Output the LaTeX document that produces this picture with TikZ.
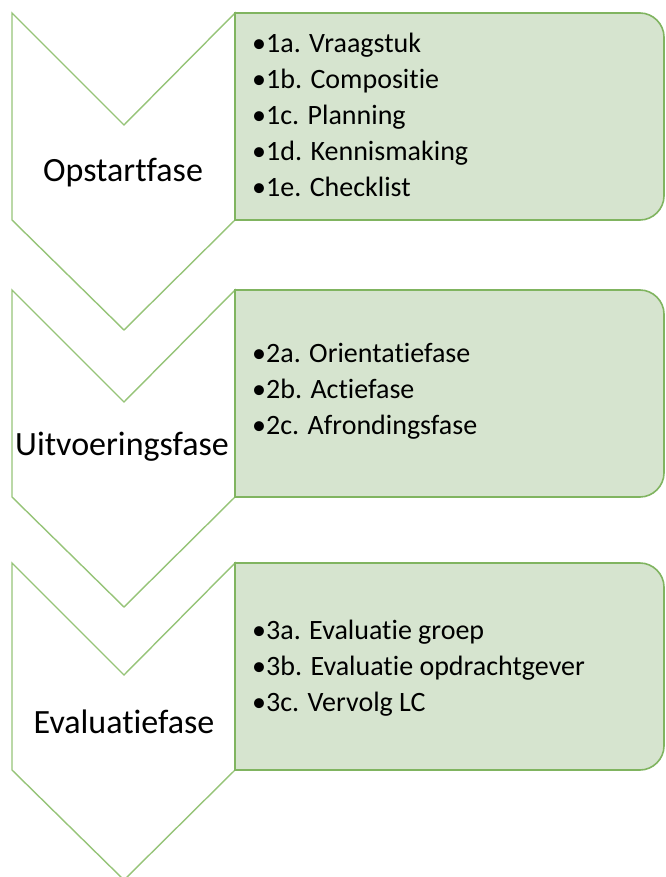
\documentclass[tikz,border=0pt]{standalone}
\usepackage{fontspec}
\setmainfont{Carlito}[Ligatures=NoCommon]
\usetikzlibrary{positioning}
\definecolor{chevline}{RGB}{150,196,120}
\definecolor{boxline}{RGB}{128,180,96}
\definecolor{boxfill}{RGB}{214,228,207}

\begin{document}
\begin{tikzpicture}[x=1pt, y=-1pt,
      chevron/.style  = {draw=chevline, line width=1.4pt, fill=white, line join=miter},
      phasebox/.style = {draw=boxline, line width=1.6pt, fill=boxfill},
      phase/.style    = {font=\fontsize{34}{40}\selectfont, inner sep=0pt},
      items/.style    = {font=\fontsize{28}{36}\selectfont, align=left,
                         anchor=west, inner sep=0pt}
    ]
    \useasboundingbox (0,0) rectangle (665,877);

    % chevrons and item boxes
    \foreach \y in {13,290,563} {
      \draw[chevron] (12,\y) -- (124,\y+112) -- (235,\y) -- (235,\y+207)
                     -- (124,\y+317) -- (12,\y+207) -- cycle;
      \draw[phasebox] (235,\y) -- (640,\y) .. controls (653,\y) and (664,\y+11) .. (664,\y+24)
                      -- (664,\y+183) .. controls (664,\y+196) and (653,\y+207) .. (640,\y+207)
                      -- (235,\y+207) -- cycle;
    }

    \node[phase] (opstart)    at (123,173) {Opstartfase};
    \node[phase] (uitvoering) at (122,447) {Uitvoeringsfase};
    \node[phase] (evaluatie)  at (124,722) {Evaluatiefase};

    \node[items] (opstartitems) at (252,115)
      {•1a. Vraagstuk\\•1b. Compositie\\•1c. Planning\\•1d. Kennismaking\\•1e. Checklist};
    \node[items] (uitvoeringitems) at (252,391)
      {•2a. Orientatiefase\\•2b. Actiefase\\•2c. Afrondingsfase};
    \node[items] (evaluatieitems) at (252,668)
      {•3a. Evaluatie groep\\•3b. Evaluatie opdrachtgever\\•3c. Vervolg LC};
  \end{tikzpicture}
\end{document}
